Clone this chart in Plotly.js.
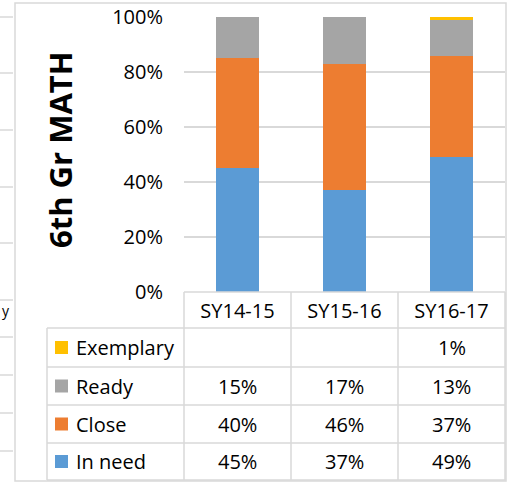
<!DOCTYPE html>
<html>
<head>
<meta charset="utf-8">
<script src="https://cdn.plot.ly/plotly-3.0.1.min.js"></script>
<style>
  html, body { margin: 0; padding: 0; background: #ffffff; }
  #chart { width: 513px; height: 489px; }
</style>
</head>
<body>
<div id="chart"></div>
<script>
// ---- data ----
const categories = ['SY14-15', 'SY15-16', 'SY16-17'];
const inNeed    = [45, 37, 49];
const closeVals = [40, 46, 37];
const ready     = [15, 17, 13];
const exemplary = [null, null, 1];
const seriesNames = ['In need', 'Close', 'Ready', 'Exemplary'];
const seriesColors = ['#5B9BD5', '#ED7D31', '#A5A5A5', '#FFC000'];
const yTickVals = [0, 20, 40, 60, 80, 100];
const yTickText = ['0%', '20%', '40%', '60%', '80%', '100%'];
const chartTitle = '6th Gr MATH';
const leftStripY = [17, 73, 130, 187, 243, 300, 337, 375, 413, 451];

// ---- geometry helpers (pixel -> paper) ----
const W = 513, H = 489;
const PL = 184, PR = 505, PT = 17, PB = 292;
const px = x => (x - PL) / (PR - PL);
const py = y => (PB - y) / (PB - PT);

const seriesValues = [inNeed, closeVals, ready, exemplary];
const traces = seriesValues.map((vals, i) => ({
  type: 'bar',
  name: seriesNames[i],
  x: categories,
  y: vals,
  marker: { color: seriesColors[i], line: { width: 0 } },
  showlegend: false,
  hoverinfo: 'skip'
}));

const FONT = 'Open Sans, Noto Sans, sans-serif';
const gridColor = '#D9D9D9';
const shapes = [];
const annotations = [];
const hline = (x0, x1, y) => shapes.push({ type: 'line', xref: 'paper', yref: 'paper',
  x0: px(x0), x1: px(x1), y0: py(y), y1: py(y), line: { color: gridColor, width: 1.5 } });
const vline = (x, y0, y1) => shapes.push({ type: 'line', xref: 'paper', yref: 'paper',
  x0: px(x), x1: px(x), y0: py(y0), y1: py(y1), line: { color: gridColor, width: 1.5 } });

// outer chart border
shapes.push({ type: 'rect', xref: 'paper', yref: 'paper',
  x0: px(15), x1: px(506), y0: py(481), y1: py(3),
  line: { color: gridColor, width: 1.5 }, fillcolor: 'rgba(0,0,0,0)' });

// neighbouring chart fragment on the far left
leftStripY.forEach(y => hline(0, 13, y));
annotations.push({ xref: 'paper', yref: 'paper', x: px(0), y: py(310), text: 'y',
  showarrow: false, xanchor: 'left', yanchor: 'middle', font: { family: FONT, size: 14, color: '#000' } });

// data table grid
const rowLines = [328, 367, 405, 443, 480];
hline(PL, PR, 292);
rowLines.forEach(y => hline(47, PR, y));
[PL, 291, 398, PR].forEach(x => vline(x, 292, 480));
vline(47, 328, 480);

// table rows (top to bottom): Exemplary, Ready, Close, In need
const rowOrder = [3, 2, 1, 0];
rowOrder.forEach((si, r) => {
  const yc = (rowLines[r] + rowLines[r + 1]) / 2;
  // legend key
  shapes.push({ type: 'rect', xref: 'paper', yref: 'paper',
    x0: px(55), x1: px(68), y0: py(yc + 6.5), y1: py(yc - 6.5),
    line: { width: 0 }, fillcolor: seriesColors[si] });
  annotations.push({ xref: 'paper', yref: 'paper', x: px(74), y: py(yc), text: seriesNames[si],
    showarrow: false, xanchor: 'left', yanchor: 'middle', font: { family: FONT, size: 20, color: '#000' } });
  // values
  seriesValues[si].forEach((v, ci) => {
    if (v === null || v === undefined) return;
    annotations.push({ xref: 'x', yref: 'paper', x: categories[ci], y: py(yc), text: v + '%',
      showarrow: false, xanchor: 'center', yanchor: 'middle', font: { family: FONT, size: 20, color: '#000' } });
  });
});

// rotated chart title
annotations.push({ xref: 'paper', yref: 'paper', x: px(60), y: py(150), text: '<b>' + chartTitle + '</b>',
  textangle: -90, showarrow: false, xanchor: 'center', yanchor: 'middle',
  font: { family: FONT, size: 31, color: '#000' } });

const layout = {
  width: W, height: H,
  margin: { l: PL, r: W - PR, t: PT, b: H - PB, pad: 0 },
  paper_bgcolor: '#ffffff', plot_bgcolor: '#ffffff',
  barmode: 'stack', bargap: 0.6,
  showlegend: false,
  font: { family: FONT, size: 20, color: '#000' },
  xaxis: {
    type: 'category', showgrid: false, zeroline: false, showline: false,
    ticks: '', ticklabelstandoff: 5,
    tickfont: { family: FONT, size: 20, color: '#000' },
    automargin: false, fixedrange: true
  },
  yaxis: {
    range: [0, 100], tickmode: 'array', tickvals: yTickVals, ticktext: yTickText,
    showgrid: true, gridcolor: gridColor, gridwidth: 1.5,
    zeroline: false, showline: false, ticks: '', ticklabelstandoff: 20,
    tickfont: { family: FONT, size: 20, color: '#000' },
    automargin: false, fixedrange: true
  },
  shapes: shapes,
  annotations: annotations
};

Plotly.newPlot('chart', traces, layout, { staticPlot: true, displayModeBar: false });
</script>
</body>
</html>
